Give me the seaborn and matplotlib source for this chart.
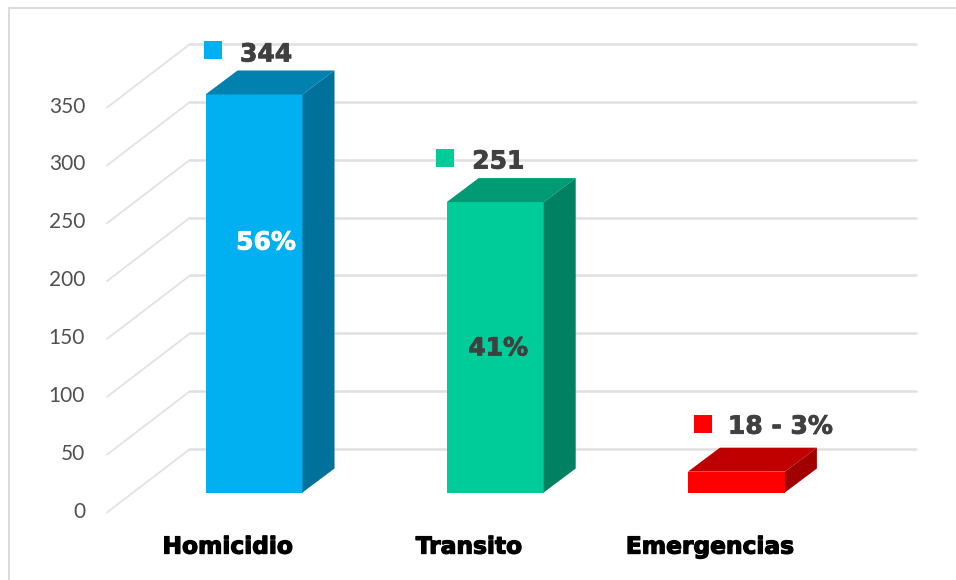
"""Recreates the 3D-look bar chart of cases by category."""

import matplotlib.pyplot as plt
import matplotlib.patheffects as pe
from matplotlib.patches import Polygon, Rectangle
from matplotlib.transforms import ScaledTranslation
import pandas as pd
import seaborn as sns

categories = ["Homicidio", "Transito", "Emergencias"]
values = [344, 251, 18]
value_labels = ["344", "251", "18 - 3%"]
pct_labels = ["56%", "41%"]
pct_heights = [216, 124.5]
y_ticks = [0, 50, 100, 150, 200, 250, 300, 350]

front_colors = ["#00B0F0", "#00CC99", "#FF0000"]
top_colors = ["#0081AF", "#009B74", "#C00000"]
side_colors = ["#00719B", "#008262", "#A00000"]

W, H = 956, 580
BASE_PX = 492.5     # pixel row of y=0 at the bars
STEP_PX = 241.2     # pixels between bars
UNIT_PX = 1.157     # pixels per y unit
LEFT_PX = 92
FIRST_PX = 254

sns.set_theme(style="white")
fig = plt.figure(figsize=(W / 100, H / 100), dpi=100, facecolor="white")
ax = fig.add_axes([LEFT_PX / W, (H - BASE_PX) / H, (W - LEFT_PX) / W, BASE_PX / H])

df = pd.DataFrame({"categoria": categories, "casos": values})
sns.barplot(data=df, x="categoria", y="casos", hue="categoria", palette=front_colors,
            width=97 / STEP_PX, saturation=1, legend=False, ax=ax, zorder=3,
            linewidth=0, edgecolor="none")

ax.set_xlim((LEFT_PX - FIRST_PX) / STEP_PX, (W - FIRST_PX) / STEP_PX)
ax.set_ylim(0, BASE_PX / UNIT_PX)
ax.set_xlabel("")
ax.set_ylabel("")
sns.despine(ax=ax, left=True, bottom=True)
ax.patch.set_alpha(0)


def px_x(dx):
    return dx / STEP_PX


def px_y(dy):
    return dy / UNIT_PX


# back wall lines, starting from the front edge of the floor
x_front = (107 - FIRST_PX) / STEP_PX
x_back = (190 - FIRST_PX) / STEP_PX
x_end = (916 - FIRST_PX) / STEP_PX
for tick in y_ticks:
    ax.plot([x_front, x_back], [tick - px_y(20), tick + px_y(43.5)], color="#E2E2E2",
            lw=1.3, clip_on=False, zorder=1)
    ax.plot([x_back, x_end], [tick + px_y(43.5)] * 2, color="#E0E0E0",
            lw=1.8, clip_on=False, zorder=1)

# depth faces of each bar
depth_x, depth_y = px_x(32), px_y(24)
for bar, top, side in zip(list(ax.patches), top_colors, side_colors):
    x0, x1 = bar.get_x(), bar.get_x() + bar.get_width()
    h = bar.get_height()
    ax.add_patch(Polygon([(x0, h), (x1, h), (x1 + depth_x, h + depth_y), (x0 + depth_x, h + depth_y)],
                         facecolor=top, edgecolor="none", zorder=3))
    ax.add_patch(Polygon([(x1, 0), (x1 + depth_x, depth_y), (x1 + depth_x, h + depth_y), (x1, h)],
                         facecolor=side, edgecolor="none", zorder=3, clip_on=False))

# data labels with their colour keys
marker_dx = [-41.5, -50, -33]
marker_dy = [44, 44, 47.5]
text_dx = [-14, -23, -8.5]
text_dy = [40, 40.5, 45]
heavy = [pe.withStroke(linewidth=0.6, foreground="#404040")]
for i, value in enumerate(values):
    ax.scatter(i + px_x(marker_dx[i]), value + px_y(marker_dy[i]), marker="s", s=150,
               color=front_colors[i], linewidths=0, zorder=4, clip_on=False)
    ax.text(i + px_x(text_dx[i]), value + px_y(text_dy[i]), value_labels[i], ha="left", va="center",
            family="DejaVu Sans", fontweight="bold", fontsize=18, color="#404040", zorder=5,
            path_effects=heavy)

pct_colors = ["white", "#404040"]
pct_dx = [12, 3]
for i, label in enumerate(pct_labels):
    ax.text(i + px_x(pct_dx[i]), pct_heights[i], label, ha="center", va="center",
            family="DejaVu Sans", fontweight="bold", fontsize=18, color=pct_colors[i], zorder=5,
            path_effects=[pe.withStroke(linewidth=0.6, foreground=pct_colors[i])])

# tick labels sit on the front edge, lower and to the left of the bars
ax.set_yticks(y_ticks)
ax.set_yticklabels(y_ticks, family="Lato", fontsize=15, color="#505050")
ax.tick_params(axis="y", length=0, pad=5)
ax.set_xticks(range(len(categories)))
ax.set_xticklabels(categories, family="DejaVu Sans", fontweight="bold", fontsize=16.8, color="black")
ax.tick_params(axis="x", length=0, pad=31)
y_shift = ScaledTranslation(0, -17 / 100, fig.dpi_scale_trans)
x_shift = ScaledTranslation(-26 / 100, 0, fig.dpi_scale_trans)
for label in ax.get_yticklabels():
    label.set_transform(label.get_transform() + y_shift)
for label in ax.get_xticklabels():
    label.set_transform(label.get_transform() + x_shift)
    label.set_path_effects([pe.withStroke(linewidth=0.9, foreground="black")])

# chart frame, only its top and left edges fall inside the picture
fig.add_artist(Rectangle((9 / W, -20 / H), (W + 20) / W, (H + 12.5) / H, transform=fig.transFigure,
                         fill=False, edgecolor="#D9D9D9", lw=1.3))

fig.savefig("out.png", dpi=100)
